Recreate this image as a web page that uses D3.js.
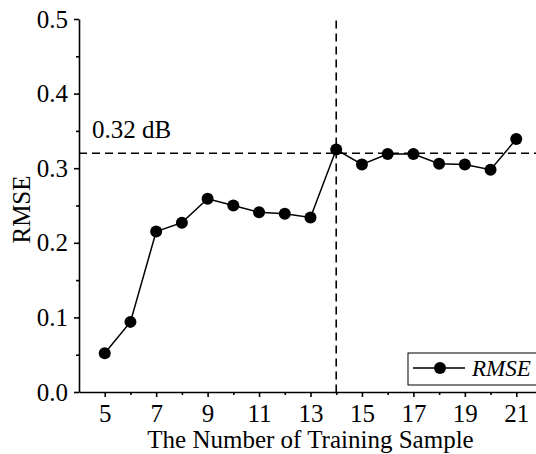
<!DOCTYPE html>
<html>
<head>
<meta charset="utf-8">
<script src="https://cdn.jsdelivr.net/npm/d3@7"></script>
<style>
  body { margin: 0; background: #fff; }
  svg { display: block; font-family: "Liberation Serif", "Times New Roman", serif; }
  svg text { font-family: "Liberation Serif", "Times New Roman", serif; }
  .axis path, .axis line { stroke: #000; stroke-width: 1.6; }
  .axis text { font-size: 25px; fill: #000; font-family: "Liberation Serif", "Times New Roman", serif; }
</style>
</head>
<body>
<div id="chart"></div>
<script>
// training sample count vs RMSE
var samples = [5, 6, 7, 8, 9, 10, 11, 12, 13, 14, 15, 16, 17, 18, 19, 20, 21]
var rmse = [0.052, 0.094, 0.215, 0.227, 0.259, 0.250, 0.241, 0.239, 0.234, 0.325, 0.305, 0.319, 0.319, 0.306, 0.305, 0.298, 0.339]

var xTicks = [5, 7, 9, 11, 13, 15, 17, 19, 21]
var xMinor = [6, 8, 10, 12, 14, 16, 18, 20]
var yTicks = [0, 0.1, 0.2, 0.3, 0.4, 0.5]
var yMinor = [0.05, 0.15, 0.25, 0.35, 0.45]

var refX = 14
var refY = 0.32
var refLabel = '0.32 dB'

var data = samples.map(function(s, i){ return {n: s, v: rmse[i]} })

var W = 536, H = 454
var margin = {left: 79, top: 19}
var width = 463, height = 373

var svg = d3.select('#chart').append('svg').attr('width', W).attr('height', H)
var g = svg.append('g').attr('transform', 'translate(' + margin.left + ',' + margin.top + ')')

var x = d3.scaleLinear().domain([4, 22]).range([0, width])
var y = d3.scaleLinear().domain([0, 0.5]).range([height, 0])

// minor ticks first
g.append('g').attr('class', 'axis').attr('transform', 'translate(0,' + height + ')')
  .call(d3.axisBottom(x).tickValues(xMinor).tickSize(3).tickFormat(''))
  .select('.domain').remove()
g.append('g').attr('class', 'axis')
  .call(d3.axisLeft(y).tickValues(yMinor).tickSize(3).tickFormat(''))
  .select('.domain').remove()

g.append('g').attr('class', 'axis').attr('transform', 'translate(0,' + height + ')')
  .call(d3.axisBottom(x).tickValues(xTicks).tickSize(5).tickSizeOuter(0).tickPadding(7).tickFormat(d3.format('d')))

g.append('g').attr('class', 'axis')
  .call(d3.axisLeft(y).tickValues(yTicks).tickSize(5).tickSizeOuter(0).tickPadding(6).tickFormat(d3.format('.1f')))

// reference lines
g.append('line')
  .attr('x1', x(refX)).attr('x2', x(refX)).attr('y1', y(0.498)).attr('y2', y(0))
  .attr('stroke', '#000').attr('stroke-width', 1.6).attr('stroke-dasharray', '8,5')
g.append('line')
  .attr('x1', 0).attr('x2', width).attr('y1', y(refY)).attr('y2', y(refY))
  .attr('stroke', '#000').attr('stroke-width', 1.6).attr('stroke-dasharray', '8,5')
g.append('text').attr('x', 13).attr('y', y(refY) - 15)
  .attr('font-size', 25).text(refLabel)

// series
var line = d3.line().x(function(d){ return x(d.n) }).y(function(d){ return y(d.v) })
g.append('path').datum(data).attr('d', line)
  .attr('fill', 'none').attr('stroke', '#000').attr('stroke-width', 1.5)
g.selectAll('circle.pt').data(data).enter().append('circle')
  .attr('class', 'pt')
  .attr('cx', function(d){ return x(d.n) })
  .attr('cy', function(d){ return y(d.v) })
  .attr('r', 6).attr('fill', '#000')

// axis titles
svg.append('text')
  .attr('x', margin.left + width / 2).attr('y', 448)
  .attr('text-anchor', 'middle').attr('font-size', 25)
  .text('The Number of Training Sample')
svg.append('text')
  .attr('transform', 'translate(30,' + (margin.top + height / 2 + 4) + ') rotate(-90)')
  .attr('text-anchor', 'middle').attr('font-size', 25)
  .text('RMSE')

// legend
var lg = svg.append('g').attr('transform', 'translate(408,353)')
lg.append('rect').attr('width', 150).attr('height', 32)
  .attr('fill', '#fff').attr('stroke', '#000').attr('stroke-width', 1)
lg.append('line').attr('x1', 5).attr('x2', 57).attr('y1', 15).attr('y2', 15)
  .attr('stroke', '#000').attr('stroke-width', 1.5)
lg.append('circle').attr('cx', 32).attr('cy', 15).attr('r', 6).attr('fill', '#000')
lg.append('text').attr('x', 64).attr('y', 23).attr('font-size', 23)
  .attr('font-style', 'italic').text('RMSE')
</script>
</body>
</html>
